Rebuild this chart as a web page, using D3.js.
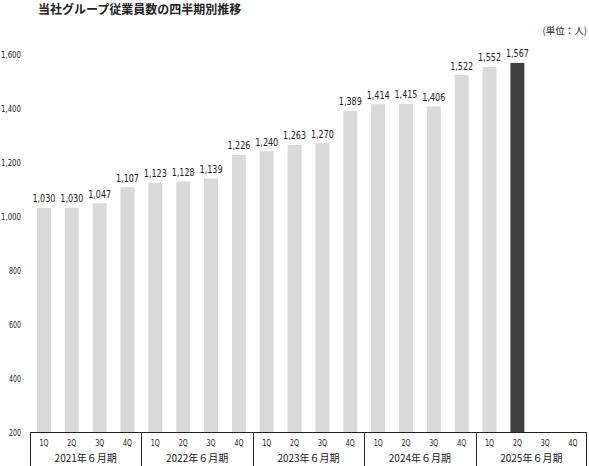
<!DOCTYPE html>
<html><head><meta charset="utf-8">
<script src="https://cdn.jsdelivr.net/npm/d3@7"></script>
<style>body{margin:0;background:#fff}</style>
</head><body>
<svg id="c" width="589" height="466"></svg>
<script>
const quarters = ["1Q","2Q","3Q","4Q","1Q","2Q","3Q","4Q","1Q","2Q","3Q","4Q","1Q","2Q","3Q","4Q","1Q","2Q","3Q","4Q"];
const years = ["2021年６月期","2022年６月期","2023年６月期","2024年６月期","2025年６月期"];
const values = [1030,1030,1047,1107,1123,1128,1139,1226,1240,1263,1270,1389,1414,1415,1406,1522,1552,1567,null,null];
const yTicks = [200,400,600,800,1000,1200,1400,1600];
const highlightIndex = 17;

(function(){
const svg = d3.select("#c");
const mL = 30, mR = 587, mT = 54, mB = 432;
const x = d3.scaleBand().domain(d3.range(values.length)).range([mL, mR]).paddingInner(0.5).paddingOuter(0.25);
const y = d3.scaleLinear().domain([200,1600]).range([mB, mT]);
const fmt = d3.format(",");
const font = "'DejaVu Sans Condensed','DejaVu Sans',sans-serif";
const jp = "'Noto Sans CJK JP',sans-serif";

svg.append("text").attr("x",38).attr("y",13.5).attr("font-family",jp)
  .attr("font-size",12).attr("font-weight","bold").attr("fill","#222").text("当社グループ従業員数の四半期別推移");
svg.append("text").attr("x",587).attr("y",34).attr("text-anchor","end").attr("font-family",jp)
  .attr("font-size",9.5).attr("fill","#222").text("(単位：人)");

svg.append("g").selectAll("text").data(yTicks).join("text")
  .attr("x",21).attr("y",d=>y(d)+3.5).attr("text-anchor","end")
  .attr("font-family",font).attr("font-size",9.5).attr("fill","#222")
  .attr("textLength",d=>fmt(d).length*4).attr("lengthAdjust","spacingAndGlyphs")
  .text(d=>fmt(d));

const data = values.map((v,i)=>({i,v})).filter(d=>d.v!=null);
svg.append("g").selectAll("rect").data(data).join("rect")
  .attr("x",d=>x(d.i)).attr("width",x.bandwidth())
  .attr("y",d=>y(d.v)).attr("height",d=>y(200)-y(d.v))
  .attr("fill",d=>d.i===highlightIndex?"#404040":"#d9d9d9");

svg.append("g").selectAll("text").data(data).join("text")
  .attr("x",d=>x(d.i)+x.bandwidth()/2).attr("y",d=>y(d.v)-5.5).attr("text-anchor","middle")
  .attr("font-family",font).attr("font-size",10.5).attr("fill","#222")
  .attr("textLength",23).attr("lengthAdjust","spacingAndGlyphs")
  .text(d=>fmt(d.v));

const g = svg.append("g").attr("stroke","#222").attr("stroke-width",1);
g.append("line").attr("x1",mL).attr("x2",mR).attr("y1",mB+0.5).attr("y2",mB+0.5);
const step = x.step();
for (let k=0;k<=years.length;k++){
  const xx = Math.min(Math.round(mL + k*4*step)+0.5, 586.5);
  g.append("line").attr("x1",xx).attr("x2",xx).attr("y1",mB).attr("y2",470);
}
svg.append("g").selectAll("text").data(quarters).join("text")
  .attr("x",(d,i)=>x(i)+x.bandwidth()/2).attr("y",446).attr("text-anchor","middle")
  .attr("font-family",font).attr("font-size",9).attr("fill","#222")
  .attr("textLength",9).attr("lengthAdjust","spacingAndGlyphs").text(d=>d);
svg.append("g").selectAll("text").data(years).join("text")
  .attr("x",(d,k)=>mL+(k*4+2)*step).attr("y",462).attr("text-anchor","middle")
  .attr("font-family",jp).attr("font-size",10).attr("fill","#222").text(d=>d);
})();
</script>
</body></html>
